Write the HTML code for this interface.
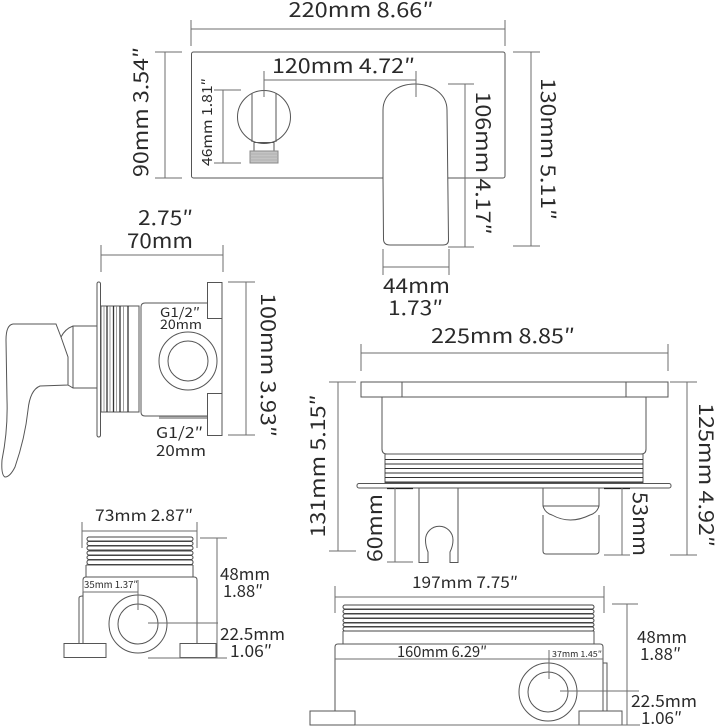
<!DOCTYPE html>
<html><head><meta charset="utf-8"><style>
html,body{margin:0;padding:0;background:#fff}
svg{display:block}
text{font-family:"Noto Sans CJK SC","Liberation Sans",sans-serif;fill:#2a2a2a;text-anchor:middle}
.d{stroke:#6e6e6e;stroke-width:1;fill:none}
.s{stroke:#555;stroke-width:1;fill:#fff}
.n{stroke:#555;stroke-width:1;fill:none}
</style></head><body>
<svg width="720" height="727" viewBox="0 0 720 727" xmlns="http://www.w3.org/2000/svg">
<!-- TOP VIEW -->
<path class="d" d="M191 29H505M191 20V46M505 20V46"/>
<text x="361" y="17" font-size="20" textLength="145" lengthAdjust="spacingAndGlyphs">220mm 8.66″</text>
<rect class="s" x="191.500" y="52" width="313.500" height="126" rx="2"/>
<path class="d" d="M165 52V178M155 52H182M155 178H182"/>
<text transform="translate(148,112) rotate(-90)" font-size="20" textLength="130" lengthAdjust="spacingAndGlyphs">90mm 3.54″</text>
<text x="343.500" y="73" font-size="20" textLength="143" lengthAdjust="spacingAndGlyphs">120mm 4.72″</text>
<circle class="s" cx="264" cy="117" r="26.500"/>
<path class="n" d="M252 93V142M276 93V142M254 142V151M274 142V151M254 142.500H274"/>
<rect x="250" y="151" width="28" height="12" fill="#c4c4c4" stroke="#888" stroke-width="1"/>
<path d="M250 154H278M250 157H278M250 160H278" stroke="#aaa" stroke-width=".8"/>
<path class="d" d="M223 90V163M214 90H241M214 163H241"/>
<text transform="translate(212,122) rotate(-90)" font-size="14" textLength="88" lengthAdjust="spacingAndGlyphs">46mm 1.81″</text>
<path class="s" d="M383 178V110C383 94 398 84 415 84C432 84 447 94 447 110L448.500 240Q448.500 245 443 245H390Q383.500 245 383.500 239Z"/>
<path class="d" d="M264 80H416M264 71V97M416 71V97"/>
<path class="d" d="M465 84V247M448 84H474M448 247H474"/>
<text transform="translate(476,163) rotate(90)" font-size="20" textLength="143" lengthAdjust="spacingAndGlyphs">106mm 4.17″</text>
<path class="d" d="M531 52V246M513 52H540M513 246H540"/>
<text transform="translate(541,149) rotate(90)" font-size="20" textLength="142" lengthAdjust="spacingAndGlyphs">130mm 5.11″</text>
<path class="d" d="M383 267H449M383 249V275M449 249V275"/>
<text x="416.500" y="293" font-size="20" textLength="67" lengthAdjust="spacingAndGlyphs">44mm</text>
<text x="415.500" y="315" font-size="20" textLength="55" lengthAdjust="spacingAndGlyphs">1.73″</text>

<!-- SIDE VIEW -->
<text x="165.500" y="225" font-size="20" textLength="55" lengthAdjust="spacingAndGlyphs">2.75″</text>
<text x="160" y="248" font-size="20" textLength="66" lengthAdjust="spacingAndGlyphs">70mm</text>
<path class="d" d="M101 255H223M101 245V272M223 245V272"/>
<path class="s" d="M61 337Q65 329 73 326H97V388H73L68 385Z"/>
<path class="s" d="M13 324H56L61 337L68 357V385L40 386Q30 390 28 410Q25 438 15 467Q10 477 5 477Q1 475 2 460Q8 430 7 400L6 340Q6 325 13 324Z"/>
<path class="n" d="M73 326V388"/>
<rect class="s" x="97" y="282" width="3.500" height="155" rx="1.700"/>
<rect class="s" x="101" y="306" width="38" height="106"/>
<path d="M104 306V412M110 306V412M116.500 306V412M123.500 306V412" stroke="#888" stroke-width=".8"/>
<path d="M107 306V412M113.500 306V412M120 306V412M128 306V412" stroke="#333" stroke-width="1.300"/>
<path class="s" d="M207 303H145Q141 303 141 307V412Q141 416 145 416H222V303Z"/>
<rect x="159" y="416.500" width="48" height="2.500" fill="#aaa"/>
<rect class="s" x="207.500" y="282.500" width="14.500" height="36"/>
<rect class="s" x="207.500" y="393.500" width="14.500" height="42"/>
<circle class="s" cx="188" cy="361" r="29"/>
<circle class="n" cx="188" cy="361" r="20"/>
<text x="180" y="317" font-size="13" textLength="40" lengthAdjust="spacingAndGlyphs">G1/2″</text>
<text x="181" y="329" font-size="13" textLength="42" lengthAdjust="spacingAndGlyphs">20mm</text>
<text x="179.500" y="438" font-size="15" textLength="47" lengthAdjust="spacingAndGlyphs">G1/2″</text>
<text x="181" y="456" font-size="15" textLength="50" lengthAdjust="spacingAndGlyphs">20mm</text>
<path class="d" d="M246 282V435M228 282H255M228 435H255"/>
<text transform="translate(261,365) rotate(90)" font-size="20" textLength="144" lengthAdjust="spacingAndGlyphs">100mm 3.93″</text>

<!-- FRONT RIGHT VIEW -->
<text x="503" y="343" font-size="20" textLength="144" lengthAdjust="spacingAndGlyphs">225mm 8.85″</text>
<path class="d" d="M361 353H668M361 344V371M668 344V371"/>
<path class="d" d="M329 382H356M338 382V551M329 551H356"/>
<path class="d" d="M670 382H697M687 382V555M670 555H697"/>
<path class="s" d="M382 397V449Q382 454 387 454H641Q646 454 646 449V397Z"/>
<path class="n" d="M361 382H668"/>
<rect class="s" x="361" y="382" width="41" height="15"/>
<rect class="s" x="626" y="382" width="42" height="15"/>
<rect class="s" x="385" y="454" width="258" height="29"/>
<path d="M385 459.500H643M385 464H643M385 468.500H643M385 473H643M385 477.500H643M385 482H643" stroke="#333" stroke-width="1.100"/>
<rect class="s" x="357" y="483.500" width="314" height="4.500" rx="2"/>
<path d="M387 488.500H413M604 488.500H630" stroke="#222" stroke-width="1.300"/>
<path class="d" d="M395 488V562M387 562H413M622 488V555M604 555H630"/>
<text transform="translate(382,528) rotate(-90)" font-size="20" textLength="68" lengthAdjust="spacingAndGlyphs">60mm</text>
<text transform="translate(633,524) rotate(90)" font-size="20" textLength="64" lengthAdjust="spacingAndGlyphs">53mm</text>
<text transform="translate(325,466) rotate(-90)" font-size="20" textLength="143" lengthAdjust="spacingAndGlyphs">131mm 5.15″</text>
<text transform="translate(699,475) rotate(90)" font-size="20" textLength="144" lengthAdjust="spacingAndGlyphs">125mm 4.92″</text>
<path class="n" d="M419 488V562.500H428V552Q425.500 546 425.500 540A13.500 13.500 0 0 1 453 540Q453 546 450 552V562.500H458V488"/>
<path class="n" d="M543 488V506Q545 513 552 515Q570 525 590 515Q597 513 599 506V488M543 506H599M543 515V551Q543 554 546 554H596Q599 554 599 551V515"/>

<!-- BOTTOM LEFT BOX -->
<text x="144" y="521" font-size="16" textLength="98" lengthAdjust="spacingAndGlyphs">73mm 2.87″</text>
<path class="d" d="M82 531H197M82 522V548M197 522V548"/>
<path class="n" d="M86 565V577M193 565V577"/>
<path class="n" d="M86 565H193"/>
<g fill="#fff" stroke="#444" stroke-width="1">
<rect x="87" y="537" width="106" height="4" rx="2"/>
<rect x="87" y="541.500" width="106" height="4" rx="2"/>
<rect x="87" y="546" width="106" height="4" rx="2"/>
<rect x="87" y="551" width="106" height="4" rx="2"/>
<rect x="87" y="555.500" width="106" height="4" rx="2"/>
<rect x="87" y="560" width="106" height="4.500" rx="2"/>
</g>
<path class="n" d="M83 643V580Q83 577 86 577H194Q197 577 197 580V643"/>
<path class="n" d="M79 643V598Q79 596 83 596"/>
<path class="d" d="M83 592H138M83 580V592"/>
<text x="111" y="588" font-size="9.500" textLength="54" lengthAdjust="spacingAndGlyphs">35mm 1.37″</text>
<circle class="s" cx="138" cy="624" r="29"/>
<circle class="n" cx="138" cy="624" r="20"/>
<path class="d" d="M138 580V610"/>
<path class="d" d="M148 623H218"/>
<rect class="s" x="64" y="643.500" width="42" height="14"/>
<rect class="s" x="180" y="643.500" width="36" height="14"/>
<path class="d" d="M217 538V658M200 538H227M148 658H227"/>
<text x="245" y="580" font-size="16.500" textLength="50" lengthAdjust="spacingAndGlyphs">48mm</text>
<text x="243" y="597" font-size="16.500" textLength="40" lengthAdjust="spacingAndGlyphs">1.88″</text>
<text x="252.500" y="640" font-size="16.500" textLength="65" lengthAdjust="spacingAndGlyphs">22.5mm</text>
<text x="251" y="657" font-size="16.500" textLength="42" lengthAdjust="spacingAndGlyphs">1.06″</text>

<!-- BOTTOM RIGHT BOX -->
<text x="465" y="588" font-size="16" textLength="106" lengthAdjust="spacingAndGlyphs">197mm 7.75″</text>
<path class="d" d="M335 597H604M335 586V613M604 586V613"/>
<path class="n" d="M343 631V644M594 631V644M343 631H594"/>
<g fill="#fff" stroke="#444" stroke-width="1">
<rect x="343" y="605" width="251" height="4" rx="2"/>
<rect x="343" y="609.500" width="251" height="4" rx="2"/>
<rect x="343" y="614" width="251" height="4" rx="2"/>
<rect x="343" y="618.500" width="251" height="4" rx="2"/>
<rect x="343" y="623" width="251" height="3.500" rx="1.700"/>
<rect x="343" y="627" width="251" height="4" rx="2"/>
</g>
<path class="n" d="M335 711V647Q335 644 338 644H600Q603 644 603 647V711"/>
<path class="n" d="M603 663H607V711"/>
<path class="d" d="M335 659H603"/>
<text x="442" y="657" font-size="15" textLength="90" lengthAdjust="spacingAndGlyphs">160mm 6.29″</text>
<text x="577" y="657" font-size="8.500" textLength="50" lengthAdjust="spacingAndGlyphs">37mm 1.45″</text>
<circle class="s" cx="548" cy="692" r="29"/>
<circle class="n" cx="548" cy="692" r="20"/>
<path class="d" d="M549 650V679M560 691H639"/>
<rect class="s" x="310" y="711" width="45" height="14"/>
<rect class="s" x="579" y="711" width="43" height="14"/>
<path class="d" d="M355 725H640M627 604V725M612 604H638"/>
<text x="662" y="643" font-size="16.500" textLength="50" lengthAdjust="spacingAndGlyphs">48mm</text>
<text x="660.500" y="660" font-size="16.500" textLength="41" lengthAdjust="spacingAndGlyphs">1.88″</text>
<text x="664" y="707" font-size="16.500" textLength="66" lengthAdjust="spacingAndGlyphs">22.5mm</text>
<text x="661.500" y="724" font-size="16.500" textLength="41" lengthAdjust="spacingAndGlyphs">1.06″</text>
</svg>
</body></html>
